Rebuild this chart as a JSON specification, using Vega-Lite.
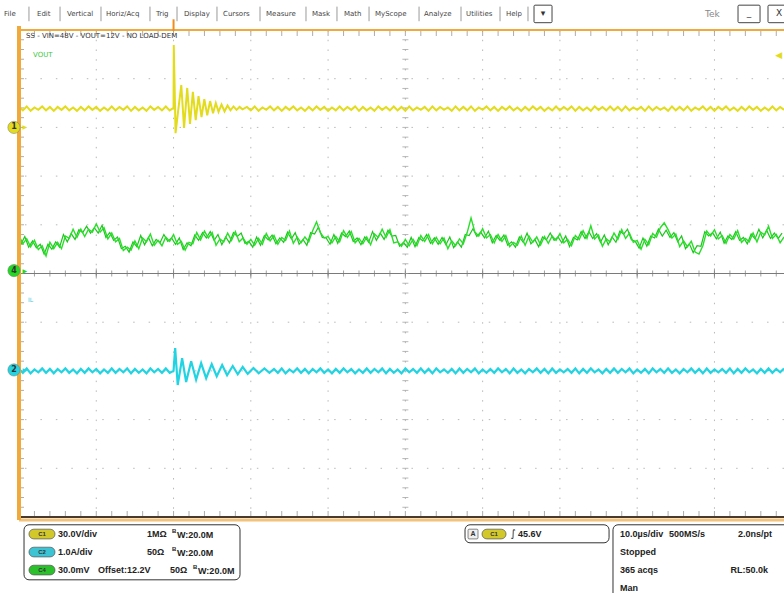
{
"$schema": "https://vega.github.io/schema/vega-lite/v6.json",
"width": 765, "height": 487,
"autosize": {"type": "none"},
"padding": {"left": 19, "top": 30, "right": 0, "bottom": 76},
"background": "white",
"config": {"view": {"stroke": null}, "axis": {"disable": true}},
"data": {"values": [{}]},
"datasets": {
"gx": [{"t":-10},{"t":0},{"t":10},{"t":20},{"t":30},{"t":40},{"t":50},{"t":60},{"t":70}],
"gy": [{"v":-4},{"v":-3},{"v":-2},{"v":-1},{"v":1},{"v":2},{"v":3},{"v":4}],
"tx": [{"t":-18},{"t":-16},{"t":-14},{"t":-12},{"t":-10},{"t":-8},{"t":-6},{"t":-4},{"t":-2},{"t":0},{"t":2},{"t":4},{"t":6},{"t":8},{"t":10},{"t":12},{"t":14},{"t":16},{"t":18},{"t":20},{"t":22},{"t":24},{"t":26},{"t":28},{"t":30},{"t":32},{"t":34},{"t":36},{"t":38},{"t":40},{"t":42},{"t":44},{"t":46},{"t":48},{"t":50},{"t":52},{"t":54},{"t":56},{"t":58},{"t":60},{"t":62},{"t":64},{"t":66},{"t":68},{"t":70},{"t":72},{"t":74},{"t":76},{"t":78}],
"ty": [{"v":-4.8},{"v":-4.6},{"v":-4.4},{"v":-4.2},{"v":-4},{"v":-3.8},{"v":-3.6},{"v":-3.4},{"v":-3.2},{"v":-3},{"v":-2.8},{"v":-2.6},{"v":-2.4},{"v":-2.2},{"v":-2},{"v":-1.8},{"v":-1.6},{"v":-1.4},{"v":-1.2},{"v":-1},{"v":-0.8},{"v":-0.6},{"v":-0.4},{"v":-0.2},{"v":0},{"v":0.2},{"v":0.4},{"v":0.6},{"v":0.8},{"v":1},{"v":1.2},{"v":1.4},{"v":1.6},{"v":1.8},{"v":2},{"v":2.2},{"v":2.4},{"v":2.6},{"v":2.8},{"v":3},{"v":3.2},{"v":3.4},{"v":3.6},{"v":3.8},{"v":4},{"v":4.2},{"v":4.4},{"v":4.6},{"v":4.8}],
"yellow": [{"t":-20,"v":3.42},{"t":-19.5,"v":3.35},{"t":-19,"v":3.43},{"t":-18.5,"v":3.34},{"t":-18,"v":3.41},{"t":-17.5,"v":3.36},{"t":-17,"v":3.43},{"t":-16.5,"v":3.35},{"t":-16,"v":3.42},{"t":-15.5,"v":3.34},{"t":-15,"v":3.42},{"t":-14.5,"v":3.36},{"t":-14,"v":3.43},{"t":-13.5,"v":3.35},{"t":-13,"v":3.41},{"t":-12.5,"v":3.34},{"t":-12,"v":3.42},{"t":-11.5,"v":3.35},{"t":-11,"v":3.43},{"t":-10.5,"v":3.36},{"t":-10,"v":3.42},{"t":-9.5,"v":3.34},{"t":-9,"v":3.41},{"t":-8.5,"v":3.35},{"t":-8,"v":3.43},{"t":-7.5,"v":3.35},{"t":-7,"v":3.42},{"t":-6.5,"v":3.36},{"t":-6,"v":3.43},{"t":-5.5,"v":3.34},{"t":-5,"v":3.42},{"t":-4.5,"v":3.35},{"t":-4,"v":3.41},{"t":-3.5,"v":3.34},{"t":-3,"v":3.43},{"t":-2.5,"v":3.36},{"t":-2,"v":3.42},{"t":-1.5,"v":3.35},{"t":-1,"v":3.43},{"t":-0.5,"v":3.35},
{"t":0,"v":3.40},{"t":0.03,"v":4.69},{"t":0.26,"v":2.88},{"t":0.58,"v":3.32},{"t":1.0,"v":3.87},{"t":1.36,"v":2.99},{"t":1.77,"v":3.81},{"t":2.13,"v":3.07},{"t":2.5,"v":3.73},{"t":2.87,"v":3.15},{"t":3.23,"v":3.64},{"t":3.62,"v":3.21},{"t":3.98,"v":3.58},{"t":4.36,"v":3.25},{"t":4.73,"v":3.54},{"t":5.11,"v":3.29},{"t":5.47,"v":3.5},{"t":5.82,"v":3.32},{"t":6.21,"v":3.47},{"t":6.6,"v":3.33},{"t":6.99,"v":3.45},{"t":7.37,"v":3.35},{"t":7.76,"v":3.43},{"t":8.15,"v":3.36},{"t":8.54,"v":3.42},{"t":8.93,"v":3.37},
{"t":9.5,"v":3.42},{"t":10,"v":3.35},{"t":10.5,"v":3.43},{"t":11,"v":3.34},{"t":11.5,"v":3.41},{"t":12,"v":3.36},{"t":12.5,"v":3.43},{"t":13,"v":3.35},{"t":13.5,"v":3.42},{"t":14,"v":3.34},{"t":14.5,"v":3.42},{"t":15,"v":3.36},{"t":15.5,"v":3.43},{"t":16,"v":3.35},{"t":16.5,"v":3.41},{"t":17,"v":3.34},{"t":17.5,"v":3.42},{"t":18,"v":3.35},{"t":18.5,"v":3.43},{"t":19,"v":3.36},{"t":19.5,"v":3.42},{"t":20,"v":3.34},{"t":20.5,"v":3.41},{"t":21,"v":3.35},{"t":21.5,"v":3.43},{"t":22,"v":3.35},{"t":22.5,"v":3.42},{"t":23,"v":3.36},{"t":23.5,"v":3.43},{"t":24,"v":3.34},{"t":24.5,"v":3.42},{"t":25,"v":3.35},{"t":25.5,"v":3.41},{"t":26,"v":3.34},{"t":26.5,"v":3.43},{"t":27,"v":3.36},{"t":27.5,"v":3.42},{"t":28,"v":3.35},{"t":28.5,"v":3.43},{"t":29,"v":3.35},{"t":29.5,"v":3.42},{"t":30,"v":3.34},{"t":30.5,"v":3.43},{"t":31,"v":3.35},{"t":31.5,"v":3.41},{"t":32,"v":3.36},{"t":32.5,"v":3.42},{"t":33,"v":3.34},{"t":33.5,"v":3.43},{"t":34,"v":3.35},{"t":34.5,"v":3.42},{"t":35,"v":3.36},{"t":35.5,"v":3.41},{"t":36,"v":3.34},{"t":36.5,"v":3.43},{"t":37,"v":3.35},{"t":37.5,"v":3.42},{"t":38,"v":3.35},{"t":38.5,"v":3.43},{"t":39,"v":3.34},{"t":39.5,"v":3.41},{"t":40,"v":3.36},{"t":40.5,"v":3.43},{"t":41,"v":3.35},{"t":41.5,"v":3.42},{"t":42,"v":3.34},{"t":42.5,"v":3.42},{"t":43,"v":3.36},{"t":43.5,"v":3.43},{"t":44,"v":3.35},{"t":44.5,"v":3.41},{"t":45,"v":3.34},{"t":45.5,"v":3.42},{"t":46,"v":3.35},{"t":46.5,"v":3.43},{"t":47,"v":3.36},{"t":47.5,"v":3.42},{"t":48,"v":3.34},{"t":48.5,"v":3.41},{"t":49,"v":3.35},{"t":49.5,"v":3.43},{"t":50,"v":3.35},{"t":50.5,"v":3.42},{"t":51,"v":3.36},{"t":51.5,"v":3.43},{"t":52,"v":3.34},{"t":52.5,"v":3.42},{"t":53,"v":3.35},{"t":53.5,"v":3.41},{"t":54,"v":3.34},{"t":54.5,"v":3.43},{"t":55,"v":3.36},{"t":55.5,"v":3.42},{"t":56,"v":3.35},{"t":56.5,"v":3.43},{"t":57,"v":3.35},{"t":57.5,"v":3.42},{"t":58,"v":3.34},{"t":58.5,"v":3.43},{"t":59,"v":3.35},{"t":59.5,"v":3.41},{"t":60,"v":3.36},{"t":60.5,"v":3.42},{"t":61,"v":3.34},{"t":61.5,"v":3.43},{"t":62,"v":3.35},{"t":62.5,"v":3.42},{"t":63,"v":3.36},{"t":63.5,"v":3.41},{"t":64,"v":3.34},{"t":64.5,"v":3.43},{"t":65,"v":3.35},{"t":65.5,"v":3.42},{"t":66,"v":3.35},{"t":66.5,"v":3.43},{"t":67,"v":3.34},{"t":67.5,"v":3.41},{"t":68,"v":3.36},{"t":68.5,"v":3.43},{"t":69,"v":3.35},{"t":69.5,"v":3.42},{"t":70,"v":3.34},{"t":70.5,"v":3.42},{"t":71,"v":3.36},{"t":71.5,"v":3.43},{"t":72,"v":3.35},{"t":72.5,"v":3.41},{"t":73,"v":3.34},{"t":73.5,"v":3.42},{"t":74,"v":3.35},{"t":74.5,"v":3.43},{"t":75,"v":3.36},{"t":75.5,"v":3.42},{"t":76,"v":3.34},{"t":76.5,"v":3.41},{"t":77,"v":3.35},{"t":77.5,"v":3.43},{"t":78,"v":3.35},{"t":78.5,"v":3.42},{"t":79,"v":3.36}],
"green": [{"t":-20,"v":0.78},{"t":-19.5,"v":0.61},{"t":-19,"v":0.71},{"t":-18.5,"v":0.55},{"t":-18,"v":0.68},{"t":-17.5,"v":0.49},{"t":-17,"v":0.57},{"t":-16.5,"v":0.36},{"t":-16,"v":0.64},{"t":-15.5,"v":0.51},{"t":-15,"v":0.64},{"t":-14.5,"v":0.51},{"t":-14,"v":0.77},{"t":-13.5,"v":0.72},{"t":-13,"v":0.91},{"t":-12.5,"v":0.74},{"t":-12,"v":0.91},{"t":-11.5,"v":0.76},{"t":-11,"v":0.91},{"t":-10.5,"v":0.85},{"t":-10,"v":1.02},{"t":-9.5,"v":0.85},{"t":-9,"v":0.94},{"t":-8.5,"v":0.71},{"t":-8,"v":0.83},{"t":-7.5,"v":0.65},{"t":-7,"v":0.72},{"t":-6.5,"v":0.47},{"t":-6,"v":0.54},{"t":-5.5,"v":0.48},{"t":-5,"v":0.67},{"t":-4.5,"v":0.51},{"t":-4,"v":0.73},{"t":-3.5,"v":0.65},{"t":-3,"v":0.81},{"t":-2.5,"v":0.58},{"t":-2,"v":0.68},{"t":-1.5,"v":0.57},{"t":-1,"v":0.75},{"t":-0.5,"v":0.66},{"t":0,"v":0.8},{"t":0.5,"v":0.6},{"t":1,"v":0.66},{"t":1.5,"v":0.48},{"t":2,"v":0.64},{"t":2.5,"v":0.61},{"t":3,"v":0.84},{"t":3.5,"v":0.69},{"t":4,"v":0.87},{"t":4.5,"v":0.73},{"t":5,"v":0.84},{"t":5.5,"v":0.58},{"t":6,"v":0.71},{"t":6.5,"v":0.65},{"t":7,"v":0.83},{"t":7.5,"v":0.68},{"t":8,"v":0.86},{"t":8.5,"v":0.65},{"t":9,"v":0.73},{"t":9.5,"v":0.6},{"t":10,"v":0.7},{"t":10.5,"v":0.58},{"t":11,"v":0.72},{"t":11.5,"v":0.6},{"t":12,"v":0.82},{"t":12.5,"v":0.67},{"t":13,"v":0.78},{"t":13.5,"v":0.6},{"t":14,"v":0.74},{"t":14.5,"v":0.68},{"t":15,"v":0.87},{"t":15.5,"v":0.62},{"t":16,"v":0.75},{"t":16.5,"v":0.63},{"t":17,"v":0.75},{"t":17.5,"v":0.65},{"t":18,"v":0.88},{"t":18.5,"v":1.06},{"t":19,"v":0.84},{"t":19.5,"v":0.73},{"t":20,"v":0.76},{"t":20.5,"v":0.63},{"t":21,"v":0.76},{"t":21.5,"v":0.65},{"t":22,"v":0.88},{"t":22.5,"v":0.74},{"t":23,"v":0.86},{"t":23.5,"v":0.63},{"t":24,"v":0.72},{"t":24.5,"v":0.61},{"t":25,"v":0.75},{"t":25.5,"v":0.59},{"t":26,"v":0.81},{"t":26.5,"v":0.74},{"t":27,"v":0.91},{"t":27.5,"v":0.74},{"t":28,"v":0.9},{"t":28.5,"v":0.63},{"t":29,"v":0.65},{"t":29.5,"v":0.56},{"t":30,"v":0.7},{"t":30.5,"v":0.57},{"t":31,"v":0.7},{"t":31.5,"v":0.57},{"t":32,"v":0.78},{"t":32.5,"v":0.66},{"t":33,"v":0.8},{"t":33.5,"v":0.61},{"t":34,"v":0.74},{"t":34.5,"v":0.61},{"t":35,"v":0.73},{"t":35.5,"v":0.51},{"t":36,"v":0.67},{"t":36.5,"v":0.57},{"t":37,"v":0.71},{"t":37.5,"v":0.61},{"t":38,"v":0.84},{"t":38.5,"v":1.14},{"t":39,"v":0.85},{"t":39.5,"v":0.77},{"t":40,"v":0.92},{"t":40.5,"v":0.73},{"t":41,"v":0.8},{"t":41.5,"v":0.63},{"t":42,"v":0.8},{"t":42.5,"v":0.66},{"t":43,"v":0.78},{"t":43.5,"v":0.55},{"t":44,"v":0.64},{"t":44.5,"v":0.58},{"t":45,"v":0.77},{"t":45.5,"v":0.58},{"t":46,"v":0.77},{"t":46.5,"v":0.64},{"t":47,"v":0.75},{"t":47.5,"v":0.59},{"t":48,"v":0.76},{"t":48.5,"v":0.62},{"t":49,"v":0.77},{"t":49.5,"v":0.68},{"t":50,"v":0.82},{"t":50.5,"v":0.63},{"t":51,"v":0.7},{"t":51.5,"v":0.57},{"t":52,"v":0.78},{"t":52.5,"v":0.7},{"t":53,"v":0.88},{"t":53.5,"v":0.72},{"t":54,"v":0.98},{"t":54.5,"v":0.71},{"t":55,"v":0.79},{"t":55.5,"v":0.56},{"t":56,"v":0.71},{"t":56.5,"v":0.65},{"t":57,"v":0.83},{"t":57.5,"v":0.7},{"t":58,"v":0.9},{"t":58.5,"v":0.72},{"t":59,"v":0.83},{"t":59.5,"v":0.64},{"t":60,"v":0.68},{"t":60.5,"v":0.5},{"t":61,"v":0.7},{"t":61.5,"v":0.59},{"t":62,"v":0.82},{"t":62.5,"v":0.75},{"t":63,"v":0.94},{"t":63.5,"v":1.04},{"t":64,"v":0.9},{"t":64.5,"v":0.73},{"t":65,"v":0.81},{"t":65.5,"v":0.55},{"t":66,"v":0.67},{"t":66.5,"v":0.55},{"t":67,"v":0.66},{"t":67.5,"v":0.44},{"t":68,"v":0.4},{"t":68.5,"v":0.57},{"t":69,"v":0.87},{"t":69.5,"v":0.77},{"t":70,"v":0.9},{"t":70.5,"v":0.71},{"t":71,"v":0.78},{"t":71.5,"v":0.62},{"t":72,"v":0.8},{"t":72.5,"v":0.71},{"t":73,"v":0.88},{"t":73.5,"v":0.64},{"t":74,"v":0.72},{"t":74.5,"v":0.65},{"t":75,"v":0.83},{"t":75.5,"v":0.65},{"t":76,"v":0.85},{"t":76.5,"v":0.79},{"t":77,"v":0.97},{"t":77.5,"v":0.72},{"t":78,"v":0.8},{"t":78.5,"v":0.63},{"t":79,"v":0.75}],
"green2": [{"t":-19.75,"v":0.6},{"t":-19.25,"v":0.76},{"t":-18.75,"v":0.54},{"t":-18.25,"v":0.67},{"t":-17.75,"v":0.53},{"t":-17.25,"v":0.6},{"t":-16.75,"v":0.4},{"t":-16.25,"v":0.6},{"t":-15.75,"v":0.5},{"t":-15.25,"v":0.65},{"t":-14.75,"v":0.54},{"t":-14.25,"v":0.8},{"t":-13.75,"v":0.65},{"t":-13.25,"v":0.82},{"t":-12.75,"v":0.7},{"t":-12.25,"v":0.9},{"t":-11.75,"v":0.84},{"t":-11.25,"v":0.97},{"t":-10.75,"v":0.83},{"t":-10.25,"v":0.94},{"t":-9.75,"v":0.83},{"t":-9.25,"v":0.99},{"t":-8.75,"v":0.74},{"t":-8.25,"v":0.84},{"t":-7.75,"v":0.68},{"t":-7.25,"v":0.75},{"t":-6.75,"v":0.51},{"t":-6.25,"v":0.56},{"t":-5.75,"v":0.44},{"t":-5.25,"v":0.65},{"t":-4.75,"v":0.55},{"t":-4.25,"v":0.78},{"t":-3.75,"v":0.59},{"t":-3.25,"v":0.74},{"t":-2.75,"v":0.57},{"t":-2.25,"v":0.7},{"t":-1.75,"v":0.63},{"t":-1.25,"v":0.8},{"t":-0.75,"v":0.66},{"t":-0.25,"v":0.73},{"t":0.25,"v":0.6},{"t":0.75,"v":0.73},{"t":1.25,"v":0.49},{"t":1.75,"v":0.63},{"t":2.25,"v":0.57},{"t":2.75,"v":0.79},{"t":3.25,"v":0.68},{"t":3.75,"v":0.84},{"t":4.25,"v":0.73},{"t":4.75,"v":0.86},{"t":5.25,"v":0.68},{"t":5.75,"v":0.8},{"t":6.25,"v":0.59},{"t":6.75,"v":0.75},{"t":7.25,"v":0.63},{"t":7.75,"v":0.84},{"t":8.25,"v":0.76},{"t":8.75,"v":0.83},{"t":9.25,"v":0.62},{"t":9.75,"v":0.66},{"t":10.25,"v":0.54},{"t":10.75,"v":0.75},{"t":11.25,"v":0.58},{"t":11.75,"v":0.78},{"t":12.25,"v":0.69},{"t":12.75,"v":0.79},{"t":13.25,"v":0.61},{"t":13.75,"v":0.73},{"t":14.25,"v":0.64},{"t":14.75,"v":0.85},{"t":15.25,"v":0.71},{"t":15.75,"v":0.84},{"t":16.25,"v":0.6},{"t":16.75,"v":0.7},{"t":17.25,"v":0.58},{"t":17.75,"v":0.84},{"t":18.25,"v":0.81},{"t":18.75,"v":0.95},{"t":19.25,"v":0.74},{"t":19.75,"v":0.73},{"t":20.25,"v":0.6},{"t":20.75,"v":0.8},{"t":21.25,"v":0.62},{"t":21.75,"v":0.83},{"t":22.25,"v":0.76},{"t":22.75,"v":0.87},{"t":23.25,"v":0.66},{"t":23.75,"v":0.73},{"t":24.25,"v":0.59},{"t":24.75,"v":0.75},{"t":25.25,"v":0.64},{"t":25.75,"v":0.86},{"t":26.25,"v":0.68},{"t":26.75,"v":0.83},{"t":27.25,"v":0.7},{"t":27.75,"v":0.89},{"t":28.25,"v":0.77},{"t":28.75,"v":0.78},{"t":29.25,"v":0.56},{"t":29.75,"v":0.64},{"t":30.25,"v":0.54},{"t":30.75,"v":0.74},{"t":31.25,"v":0.55},{"t":31.75,"v":0.74},{"t":32.25,"v":0.67},{"t":32.75,"v":0.8},{"t":33.25,"v":0.62},{"t":33.75,"v":0.73},{"t":34.25,"v":0.6},{"t":34.75,"v":0.74},{"t":35.25,"v":0.59},{"t":35.75,"v":0.75},{"t":36.25,"v":0.53},{"t":36.75,"v":0.65},{"t":37.25,"v":0.54},{"t":37.75,"v":0.8},{"t":38.25,"v":0.78},{"t":38.75,"v":0.92},{"t":39.25,"v":0.76},{"t":39.75,"v":0.85},{"t":40.25,"v":0.73},{"t":40.75,"v":0.87},{"t":41.25,"v":0.63},{"t":41.75,"v":0.78},{"t":42.25,"v":0.68},{"t":42.75,"v":0.79},{"t":43.25,"v":0.58},{"t":43.75,"v":0.65},{"t":44.25,"v":0.54},{"t":44.75,"v":0.75},{"t":45.25,"v":0.64},{"t":45.75,"v":0.83},{"t":46.25,"v":0.61},{"t":46.75,"v":0.7},{"t":47.25,"v":0.55},{"t":47.75,"v":0.75},{"t":48.25,"v":0.69},{"t":48.75,"v":0.83},{"t":49.25,"v":0.68},{"t":49.75,"v":0.75},{"t":50.25,"v":0.63},{"t":50.75,"v":0.77},{"t":51.25,"v":0.55},{"t":51.75,"v":0.74},{"t":52.25,"v":0.69},{"t":52.75,"v":0.86},{"t":53.25,"v":0.72},{"t":53.75,"v":0.86},{"t":54.25,"v":0.72},{"t":54.75,"v":0.82},{"t":55.25,"v":0.64},{"t":55.75,"v":0.79},{"t":56.25,"v":0.59},{"t":56.75,"v":0.75},{"t":57.25,"v":0.64},{"t":57.75,"v":0.87},{"t":58.25,"v":0.81},{"t":58.75,"v":0.91},{"t":59.25,"v":0.69},{"t":59.75,"v":0.66},{"t":60.25,"v":0.52},{"t":60.75,"v":0.73},{"t":61.25,"v":0.56},{"t":61.75,"v":0.77},{"t":62.25,"v":0.73},{"t":62.75,"v":0.91},{"t":63.25,"v":0.77},{"t":63.75,"v":0.89},{"t":64.25,"v":0.74},{"t":64.75,"v":0.84},{"t":65.25,"v":0.65},{"t":65.75,"v":0.77},{"t":66.25,"v":0.51},{"t":66.75,"v":0.61},{"t":67.25,"v":0.43},{"t":67.75,"v":0.57},{"t":68.25,"v":0.56},{"t":68.75,"v":0.86},{"t":69.25,"v":0.77},{"t":69.75,"v":0.84},{"t":70.25,"v":0.71},{"t":70.75,"v":0.85},{"t":71.25,"v":0.62},{"t":71.75,"v":0.77},{"t":72.25,"v":0.7},{"t":72.75,"v":0.86},{"t":73.25,"v":0.68},{"t":73.75,"v":0.74},{"t":74.25,"v":0.61},{"t":74.75,"v":0.81},{"t":75.25,"v":0.71},{"t":75.75,"v":0.91},{"t":76.25,"v":0.73},{"t":76.75,"v":0.89},{"t":77.25,"v":0.72},{"t":77.75,"v":0.83},{"t":78.25,"v":0.72},{"t":78.75,"v":0.83}],
"cyan": [{"t":-20,"v":-1.96},{"t":-19.5,"v":-2.04},{"t":-19,"v":-1.95},{"t":-18.5,"v":-2.05},{"t":-18,"v":-1.97},{"t":-17.5,"v":-2.03},{"t":-17,"v":-1.95},{"t":-16.5,"v":-2.04},{"t":-16,"v":-1.96},{"t":-15.5,"v":-2.05},{"t":-15,"v":-1.96},{"t":-14.5,"v":-2.03},{"t":-14,"v":-1.95},{"t":-13.5,"v":-2.04},{"t":-13,"v":-1.97},{"t":-12.5,"v":-2.05},{"t":-12,"v":-1.96},{"t":-11.5,"v":-2.04},{"t":-11,"v":-1.95},{"t":-10.5,"v":-2.03},{"t":-10,"v":-1.96},{"t":-9.5,"v":-2.05},{"t":-9,"v":-1.97},{"t":-8.5,"v":-2.04},{"t":-8,"v":-1.95},{"t":-7.5,"v":-2.04},{"t":-7,"v":-1.96},{"t":-6.5,"v":-2.03},{"t":-6,"v":-1.95},{"t":-5.5,"v":-2.05},{"t":-5,"v":-1.96},{"t":-4.5,"v":-2.04},{"t":-4,"v":-1.97},{"t":-3.5,"v":-2.05},{"t":-3,"v":-1.95},{"t":-2.5,"v":-2.03},{"t":-2,"v":-1.96},{"t":-1.5,"v":-2.04},{"t":-1,"v":-1.95},{"t":-0.5,"v":-2.04},
{"t":0,"v":-2.0},{"t":0.21,"v":-1.53},{"t":0.54,"v":-2.29},{"t":1.11,"v":-1.74},{"t":1.63,"v":-2.23},{"t":2.28,"v":-1.8},{"t":2.92,"v":-2.18},{"t":3.57,"v":-1.84},{"t":4.22,"v":-2.15},{"t":4.94,"v":-1.86},{"t":5.59,"v":-2.11},{"t":6.29,"v":-1.88},{"t":6.93,"v":-2.09},{"t":7.66,"v":-1.9},{"t":8.31,"v":-2.07},{"t":8.95,"v":-1.92},{"t":9.6,"v":-2.06},{"t":10.34,"v":-1.94},{"t":11.02,"v":-2.05},{"t":11.76,"v":-1.95},{"t":12.41,"v":-2.04},
{"t":13,"v":-1.96},{"t":13.5,"v":-2.04},{"t":14,"v":-1.95},{"t":14.5,"v":-2.05},{"t":15,"v":-1.97},{"t":15.5,"v":-2.03},{"t":16,"v":-1.95},{"t":16.5,"v":-2.04},{"t":17,"v":-1.96},{"t":17.5,"v":-2.05},{"t":18,"v":-1.96},{"t":18.5,"v":-2.03},{"t":19,"v":-1.95},{"t":19.5,"v":-2.04},{"t":20,"v":-1.97},{"t":20.5,"v":-2.05},{"t":21,"v":-1.96},{"t":21.5,"v":-2.04},{"t":22,"v":-1.95},{"t":22.5,"v":-2.03},{"t":23,"v":-1.96},{"t":23.5,"v":-2.05},{"t":24,"v":-1.97},{"t":24.5,"v":-2.04},{"t":25,"v":-1.95},{"t":25.5,"v":-2.04},{"t":26,"v":-1.96},{"t":26.5,"v":-2.03},{"t":27,"v":-1.95},{"t":27.5,"v":-2.05},{"t":28,"v":-1.96},{"t":28.5,"v":-2.04},{"t":29,"v":-1.97},{"t":29.5,"v":-2.05},{"t":30,"v":-1.95},{"t":30.5,"v":-2.03},{"t":31,"v":-1.96},{"t":31.5,"v":-2.04},{"t":32,"v":-1.95},{"t":32.5,"v":-2.04},{"t":33,"v":-1.96},{"t":33.5,"v":-2.05},{"t":34,"v":-1.95},{"t":34.5,"v":-2.03},{"t":35,"v":-1.97},{"t":35.5,"v":-2.04},{"t":36,"v":-1.96},{"t":36.5,"v":-2.05},{"t":37,"v":-1.95},{"t":37.5,"v":-2.04},{"t":38,"v":-1.96},{"t":38.5,"v":-2.03},{"t":39,"v":-1.95},{"t":39.5,"v":-2.05},{"t":40,"v":-1.97},{"t":40.5,"v":-2.04},{"t":41,"v":-1.96},{"t":41.5,"v":-2.04},{"t":42,"v":-1.95},{"t":42.5,"v":-2.03},{"t":43,"v":-1.96},{"t":43.5,"v":-2.05},{"t":44,"v":-1.95},{"t":44.5,"v":-2.04},{"t":45,"v":-1.97},{"t":45.5,"v":-2.05},{"t":46,"v":-1.96},{"t":46.5,"v":-2.03},{"t":47,"v":-1.95},{"t":47.5,"v":-2.04},{"t":48,"v":-1.96},{"t":48.5,"v":-2.05},{"t":49,"v":-1.95},{"t":49.5,"v":-2.04},{"t":50,"v":-1.97},{"t":50.5,"v":-2.03},{"t":51,"v":-1.96},{"t":51.5,"v":-2.04},{"t":52,"v":-1.95},{"t":52.5,"v":-2.05},{"t":53,"v":-1.96},{"t":53.5,"v":-2.04},{"t":54,"v":-1.95},{"t":54.5,"v":-2.03},{"t":55,"v":-1.97},{"t":55.5,"v":-2.05},{"t":56,"v":-1.96},{"t":56.5,"v":-2.04},{"t":57,"v":-1.95},{"t":57.5,"v":-2.04},{"t":58,"v":-1.96},{"t":58.5,"v":-2.03},{"t":59,"v":-1.95},{"t":59.5,"v":-2.05},{"t":60,"v":-1.97},{"t":60.5,"v":-2.04},{"t":61,"v":-1.96},{"t":61.5,"v":-2.05},{"t":62,"v":-1.95},{"t":62.5,"v":-2.03},{"t":63,"v":-1.96},{"t":63.5,"v":-2.04},{"t":64,"v":-1.95},{"t":64.5,"v":-2.04},{"t":65,"v":-1.97},{"t":65.5,"v":-2.05},{"t":66,"v":-1.96},{"t":66.5,"v":-2.03},{"t":67,"v":-1.95},{"t":67.5,"v":-2.04},{"t":68,"v":-1.96},{"t":68.5,"v":-2.05},{"t":69,"v":-1.95},{"t":69.5,"v":-2.04},{"t":70,"v":-1.97},{"t":70.5,"v":-2.03},{"t":71,"v":-1.96},{"t":71.5,"v":-2.04},{"t":72,"v":-1.95},{"t":72.5,"v":-2.05},{"t":73,"v":-1.96},{"t":73.5,"v":-2.04},{"t":74,"v":-1.95},{"t":74.5,"v":-2.03},{"t":75,"v":-1.97},{"t":75.5,"v":-2.05},{"t":76,"v":-1.96},{"t":76.5,"v":-2.04},{"t":77,"v":-1.95},{"t":77.5,"v":-2.04},{"t":78,"v":-1.96},{"t":78.5,"v":-2.03},{"t":79,"v":-1.95}],
"menu": [{"t":-21.94,"s":"File"},{"t":-17.67,"s":"Edit"},{"t":-13.79,"s":"Vertical"},{"t":-8.74,"s":"Horiz/Acq"},{"t":-2.27,"s":"Trig"},{"t":1.35,"s":"Display"},{"t":6.4,"s":"Cursors"},{"t":11.97,"s":"Measure"},{"t":17.92,"s":"Mask"},{"t":22.06,"s":"Math"},{"t":26.07,"s":"MyScope"},{"t":32.41,"s":"Analyze"},{"t":37.85,"s":"Utilities"},{"t":43.03,"s":"Help"}],
"msep": [{"t":-18.71},{"t":-14.69},{"t":-9.39},{"t":-3.05},{"t":0.45},{"t":5.62},{"t":11.19},{"t":17.14},{"t":21.15},{"t":25.3},{"t":31.77},{"t":37.2},{"t":42.25},{"t":45.87}],
"mbox": [{"t":46.65,"t2":48.98,"c":47.81,"s":"▾"},{"t":73.05,"t2":75.9,"c":74.47,"s":"_"},{"t":76.93,"t2":79.78,"c":78.36,"s":"X"}],
"chm": [{"t":-20.65,"v":3.0,"ch":"1","n":"1"},{"t":-20.65,"v":0.06,"ch":"4","n":"4"},{"t":-20.65,"v":-1.98,"ch":"2","n":"2"}],
"boxes": [{"t":-19.35,"t2":8.6,"v":-5.16,"v2":-6.29},{"t":37.72,"t2":56.36,"v":-5.16,"v2":-5.53},{"t":56.87,"t2":85,"v":-5.16,"v2":-7.2}],
"pills": [{"t":-18.71,"t2":-15.34,"v":-5.25,"v2":-5.45,"c":-17.02,"m":-5.35,"ch":"1","s":"C1"},{"t":-18.71,"t2":-15.34,"v":-5.62,"v2":-5.82,"c":-17.02,"m":-5.72,"ch":"2","s":"C2"},{"t":-18.71,"t2":-15.34,"v":-5.99,"v2":-6.19,"c":-17.02,"m":-6.09,"ch":"4","s":"C4"},{"t":39.92,"t2":43.03,"v":-5.25,"v2":-5.45,"c":41.47,"m":-5.35,"ch":"1","s":"C1"}],
"info": [{"t":-14.95,"v":-5.35,"s":"30.0V/div"},{"t":-3.43,"v":-5.35,"s":"1MΩ"},{"t":0.45,"v":-5.37,"s":"W:20.0M"},{"t":-14.95,"v":-5.72,"s":"1.0A/div"},{"t":-3.43,"v":-5.72,"s":"50Ω"},{"t":0.45,"v":-5.74,"s":"W:20.0M"},{"t":-14.95,"v":-6.09,"s":"30.0mV"},{"t":-9.78,"v":-6.09,"s":"Offset:12.2V"},{"t":-0.46,"v":-6.09,"s":"50Ω"},{"t":3.17,"v":-6.11,"s":"W:20.0M"},{"t":44.58,"v":-5.35,"s":"45.6V"},{"t":57.78,"v":-5.35,"s":"10.0µs/div"},{"t":64.12,"v":-5.35,"s":"500MS/s"},{"t":57.78,"v":-5.72,"s":"Stopped"},{"t":57.78,"v":-6.09,"s":"365 acqs"},{"t":57.78,"v":-6.46,"s":"Man"}],
"infor": [{"t":77.45,"v":-5.35,"s":"2.0ns/pt"},{"t":76.93,"v":-6.09,"s":"RL:50.0k"}],
"bsup": [{"t":-0.2,"v":-5.29},{"t":-0.2,"v":-5.66},{"t":2.52,"v":-6.03}]
},
"layer": [
{"data":{"name":"gx"},"mark":{"type":"rule","color":"#b8b8b8","strokeWidth":1,"strokeDash":[1.5,8.24]},
 "encoding":{"x":{"field":"t","type":"quantitative","scale":{"domain":[-20,79],"nice":false,"zero":false},"axis":null}}},
{"data":{"name":"gy"},"mark":{"type":"rule","color":"#b8b8b8","strokeWidth":1,"strokeDash":[1.5,13.96]},
 "encoding":{"y":{"field":"v","type":"quantitative","scale":{"domain":[-5,5],"nice":false,"zero":false},"axis":null}}},
{"mark":{"type":"rule","color":"#7a7a7a","strokeWidth":1},"encoding":{"y":{"datum":0,"type":"quantitative"}}},
{"data":{"name":"tx"},"mark":{"type":"tick","orient":"vertical","color":"#7a7a7a","size":6,"thickness":1},
 "encoding":{"x":{"field":"t","type":"quantitative"},"y":{"datum":0,"type":"quantitative"}}},
{"data":{"name":"gx"},"mark":{"type":"tick","orient":"vertical","color":"#7a7a7a","size":10,"thickness":1},
 "encoding":{"x":{"field":"t","type":"quantitative"},"y":{"datum":0,"type":"quantitative"}}},
{"data":{"name":"ty"},"mark":{"type":"tick","orient":"horizontal","color":"#9a9a9a","size":6,"thickness":1},
 "encoding":{"x":{"datum":30,"type":"quantitative"},"y":{"field":"v","type":"quantitative"}}},
{"data":{"name":"tx"},"mark":{"type":"tick","orient":"vertical","color":"#8a8a8a","size":12,"thickness":1,"clip":true},
 "encoding":{"x":{"field":"t","type":"quantitative"},"y":{"datum":5,"type":"quantitative"}}},
{"data":{"name":"tx"},"mark":{"type":"tick","orient":"vertical","color":"#8a8a8a","size":12,"thickness":1,"clip":true},
 "encoding":{"x":{"field":"t","type":"quantitative"},"y":{"datum":-5,"type":"quantitative"}}},
{"data":{"name":"ty"},"mark":{"type":"tick","orient":"horizontal","color":"#8a8a8a","size":10,"thickness":1,"clip":true},
 "encoding":{"x":{"datum":-20,"type":"quantitative"},"y":{"field":"v","type":"quantitative"}}},
{"data":{"name":"yellow"},"mark":{"type":"line","color":"#e3dc1c","strokeWidth":2,"clip":true},
 "encoding":{"x":{"field":"t","type":"quantitative"},"y":{"field":"v","type":"quantitative"}}},
{"data":{"name":"green2"},"mark":{"type":"line","color":"#1fc41f","strokeWidth":1.2,"clip":true},
 "encoding":{"x":{"field":"t","type":"quantitative"},"y":{"field":"v","type":"quantitative"}}},
{"data":{"name":"green"},"mark":{"type":"line","color":"#2ade2a","strokeWidth":1.4,"clip":true},
 "encoding":{"x":{"field":"t","type":"quantitative"},"y":{"field":"v","type":"quantitative"}}},
{"data":{"name":"cyan"},"mark":{"type":"line","color":"#22d4e2","strokeWidth":2.2,"clip":true},
 "encoding":{"x":{"field":"t","type":"quantitative"},"y":{"field":"v","type":"quantitative"}}},
{"mark":{"type":"rule","color":"#f0aa3c","strokeWidth":2},"encoding":{"y":{"datum":5,"type":"quantitative"}}},
{"mark":{"type":"rule","color":"#f3c27a","strokeWidth":3},"encoding":{"y":{"datum":-5.06,"type":"quantitative"}}},
{"mark":{"type":"rule","color":"#4a3a2c","strokeWidth":2},"encoding":{"y":{"datum":-5,"type":"quantitative"}}},
{"mark":{"type":"rule","color":"#f0aa3c","strokeWidth":4},"encoding":{"x":{"datum":-20,"type":"quantitative"},"y":{"datum":5.08,"type":"quantitative"},"y2":{"datum":-5.06}}},
{"mark":{"type":"rule","color":"#f08c1c","strokeWidth":2},"encoding":{"x":{"datum":0,"type":"quantitative"},"y":{"datum":5.22,"type":"quantitative"},"y2":{"datum":4.98}}},
{"data":{"name":"menu"},"mark":{"type":"text","align":"left","baseline":"middle","font":"DejaVu Sans","fontSize":7,"color":"#444444"},
 "encoding":{"x":{"field":"t","type":"quantitative"},"y":{"datum":5.33,"type":"quantitative"},"text":{"field":"s"}}},
{"data":{"name":"msep"},"mark":{"type":"rule","color":"#9a9a9a","strokeWidth":1},
 "encoding":{"x":{"field":"t","type":"quantitative"},"y":{"datum":5.48,"type":"quantitative"},"y2":{"datum":5.18}}},
{"data":{"name":"mbox"},"mark":{"type":"rect","fill":"white","stroke":"#444444","strokeWidth":1,"cornerRadius":1},
 "encoding":{"x":{"field":"t","type":"quantitative"},"x2":{"field":"t2"},"y":{"datum":5.51,"type":"quantitative"},"y2":{"datum":5.15}}},
{"data":{"name":"mbox"},"mark":{"type":"text","align":"center","baseline":"middle","font":"DejaVu Sans","fontSize":9,"color":"#333333"},
 "encoding":{"x":{"field":"c","type":"quantitative"},"y":{"datum":5.34,"type":"quantitative"},"text":{"field":"s"}}},
{"mark":{"type":"text","align":"left","baseline":"middle","font":"DejaVu Sans","fontSize":9,"color":"#888888"},
 "encoding":{"x":{"datum":68.78,"type":"quantitative"},"y":{"datum":5.33,"type":"quantitative"},"text":{"value":"Tek"}}},
{"mark":{"type":"text","align":"left","baseline":"middle","font":"DejaVu Sans","fontSize":7,"color":"#333333"},
 "encoding":{"x":{"datum":-19.09,"type":"quantitative"},"y":{"datum":4.88,"type":"quantitative"},"text":{"value":"SS - VIN=48V - VOUT=12V - NO LOAD-DEM"}}},
{"mark":{"type":"text","align":"left","baseline":"middle","font":"DejaVu Sans","fontSize":7,"color":"#3cc83c"},
 "encoding":{"x":{"datum":-18.19,"type":"quantitative"},"y":{"datum":4.49,"type":"quantitative"},"text":{"value":"VOUT"}}},
{"mark":{"type":"text","align":"left","baseline":"middle","font":"DejaVu Sans","fontSize":6,"color":"#40c8dc"},
 "encoding":{"x":{"datum":-18.84,"type":"quantitative"},"y":{"datum":-0.54,"type":"quantitative"},"text":{"value":"IL"}}},
{"mark":{"type":"text","align":"center","baseline":"middle","font":"DejaVu Sans","fontSize":9,"color":"#e3dc1c"},
 "encoding":{"x":{"datum":78.3,"type":"quantitative"},"y":{"datum":4.49,"type":"quantitative"},"text":{"value":"◀"}}},
{"data":{"name":"chm"},"mark":{"type":"circle","size":150,"opacity":1,"stroke":"#777777","strokeWidth":0.5},
 "encoding":{"x":{"field":"t","type":"quantitative"},"y":{"field":"v","type":"quantitative"},
  "color":{"field":"ch","type":"nominal","scale":{"domain":["1","2","4"],"range":["#e3dc1c","#22d4e2","#22d822"]},"legend":null}}},
{"data":{"name":"chm"},"mark":{"type":"text","align":"center","baseline":"middle","font":"DejaVu Sans","fontSize":8,"fontWeight":"bold","color":"#333333"},
 "encoding":{"x":{"field":"t","type":"quantitative"},"y":{"field":"v","type":"quantitative"},"text":{"field":"n"}}},
{"data":{"name":"chm"},"mark":{"type":"text","align":"center","baseline":"middle","font":"DejaVu Sans","fontSize":6,"clip":false},
 "encoding":{"x":{"datum":-19.25,"type":"quantitative"},"y":{"field":"v","type":"quantitative"},"text":{"value":"▶"},
  "color":{"field":"ch","type":"nominal","scale":{"domain":["1","2","4"],"range":["#e3dc1c","#22d4e2","#22d822"]},"legend":null}}},
{"data":{"name":"boxes"},"mark":{"type":"rect","fill":"white","stroke":"#333333","strokeWidth":1,"cornerRadius":5},
 "encoding":{"x":{"field":"t","type":"quantitative"},"x2":{"field":"t2"},"y":{"field":"v","type":"quantitative"},"y2":{"field":"v2"}}},
{"data":{"name":"pills"},"mark":{"type":"rect","stroke":"#555555","strokeWidth":0.7,"cornerRadius":5},
 "encoding":{"x":{"field":"t","type":"quantitative"},"x2":{"field":"t2"},"y":{"field":"v","type":"quantitative"},"y2":{"field":"v2"},
  "fill":{"field":"ch","type":"nominal","scale":{"domain":["1","2","4"],"range":["#d2c82a","#3cc4d4","#2cc02c"]},"legend":null}}},
{"data":{"name":"pills"},"mark":{"type":"text","align":"center","baseline":"middle","font":"Liberation Sans","fontSize":6,"fontWeight":"bold","color":"#333333"},
 "encoding":{"x":{"field":"c","type":"quantitative"},"y":{"field":"m","type":"quantitative"},"text":{"field":"s"}}},
{"data":{"name":"info"},"mark":{"type":"text","align":"left","baseline":"middle","font":"Liberation Sans","fontSize":9,"fontWeight":"bold","color":"#222222"},
 "encoding":{"x":{"field":"t","type":"quantitative"},"y":{"field":"v","type":"quantitative"},"text":{"field":"s"}}},
{"data":{"name":"infor"},"mark":{"type":"text","align":"right","baseline":"middle","font":"Liberation Sans","fontSize":9,"fontWeight":"bold","color":"#222222"},
 "encoding":{"x":{"field":"t","type":"quantitative"},"y":{"field":"v","type":"quantitative"},"text":{"field":"s"}}},
{"data":{"name":"bsup"},"mark":{"type":"text","align":"left","baseline":"middle","font":"Liberation Sans","fontSize":6,"fontWeight":"bold","color":"#222222"},
 "encoding":{"x":{"field":"t","type":"quantitative"},"y":{"field":"v","type":"quantitative"},"text":{"value":"B"}}},
{"mark":{"type":"rect","fill":"#eeeeee","stroke":"#555555","strokeWidth":0.7,"cornerRadius":1},
 "encoding":{"x":{"datum":38.11,"type":"quantitative"},"x2":{"datum":39.4},"y":{"datum":-5.25,"type":"quantitative"},"y2":{"datum":-5.45}}},
{"mark":{"type":"text","align":"center","baseline":"middle","font":"Liberation Sans","fontSize":7,"fontWeight":"bold","color":"#333333"},
 "encoding":{"x":{"datum":38.75,"type":"quantitative"},"y":{"datum":-5.35,"type":"quantitative"},"text":{"value":"A"}}},
{"mark":{"type":"text","align":"left","baseline":"middle","font":"DejaVu Sans","fontSize":10,"color":"#222222"},
 "encoding":{"x":{"datum":43.6,"type":"quantitative"},"y":{"datum":-5.35,"type":"quantitative"},"text":{"value":"∫"}}}
]
}
